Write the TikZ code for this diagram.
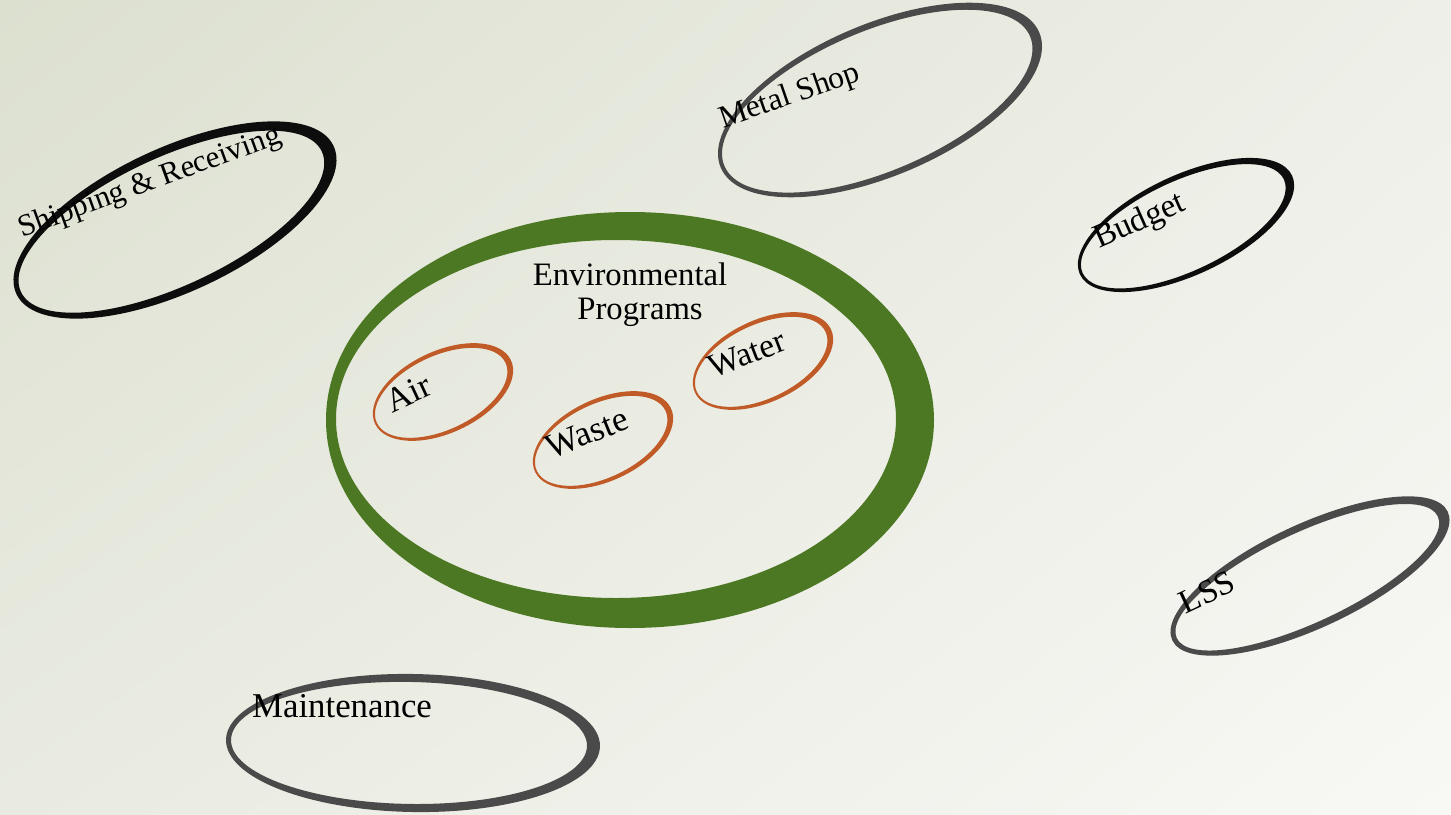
\documentclass[tikz,border=0pt]{standalone}
\usepackage{fontspec}
\setmainfont{Liberation Serif}
\usetikzlibrary{shadings}
\definecolor{bgdark}{HTML}{DCE0CF}
\definecolor{bgmid}{HTML}{E9EBE1}
\definecolor{bgmid2}{HTML}{EEEFE8}
\definecolor{bglight}{HTML}{F8F8F5}
\definecolor{envgreen}{HTML}{4D7823}
\definecolor{progorange}{HTML}{C05A27}
\definecolor{ringdark}{HTML}{4A4A4A}
\tikzset{
	ringblack/.style={fill=black!95,even odd rule},
	ringgray/.style={fill=ringdark,even odd rule},
	ringgreen/.style={fill=envgreen,even odd rule},
	ringorange/.style={fill=progorange,even odd rule},
	lbl/.style={inner sep=0pt,font=\fontsize{9}{10}\selectfont},
}

\begin{document}
\begin{tikzpicture}[x=0.01cm,y=-0.01cm]
	\useasboundingbox (0,0) rectangle (1451,815);
	\shade[upper left=bgdark,lower left=bgmid,upper right=bgmid2,lower right=bglight] (0,0) rectangle (1451,815);

	% outer departments
	\fill[ringblack,shift={(175,220)},rotate=25] (0,0) ellipse (175 and 72) (-4,0) ellipse (166 and 64);
	\fill[ringgray,shift={(880,100)},rotate=23] (0,0) ellipse (173 and 76) (-3,0) ellipse (166 and 70);
	\fill[ringblack,shift={(1186,225)},rotate=25] (0,0) ellipse (117 and 50) (-3,0) ellipse (111 and 45);
	\fill[ringgray,shift={(1310,576)},rotate=25] (0,0) ellipse (152 and 52) (-3,0) ellipse (144 and 45);
	\fill[ringgray,shift={(413,743)},rotate=-1] (0,0) ellipse (187 and 69) (-4,0) ellipse (178 and 61);

	% environmental programs
	\fill[ringgreen] (630,420) ellipse (304 and 208) (616,419) ellipse (280 and 179);
	\fill[ringorange,shift={(443,392)},rotate=25] (0,0) ellipse (75 and 41) (-2,0) ellipse (71 and 37);
	\fill[ringorange,shift={(603,440)},rotate=25] (0,0) ellipse (75 and 41) (-2,0) ellipse (71 and 37);
	\fill[ringorange,shift={(763,361)},rotate=25] (0,0) ellipse (75 and 41) (-2,0) ellipse (71 and 37);

	\node[lbl,rotate=20,font=\fontsize{8.8}{10}\selectfont] (ship) at (150,183) {Shipping \& Receiving};
	\node[lbl,rotate=19] (metal) at (790,97) {Metal Shop};
	\node[lbl,rotate=24,font=\fontsize{9.5}{10}\selectfont] (budget) at (1140,222) {Budget};
	\node[lbl,rotate=25,font=\fontsize{9.5}{10}\selectfont] (lss) at (1207,592) {LSS};
	\node[lbl,anchor=base,font=\fontsize{9.9}{11}\selectfont] (maint) at (342,717) {Maintenance};
	\node[lbl,align=center,font=\fontsize{9.3}{9.7}\selectfont] (env) at (630,295) {Environmental\\\hspace*{0.2cm}Programs};
	\node[lbl,rotate=25,font=\fontsize{9.8}{10}\selectfont] (air) at (408,393) {Air};
	\node[lbl,rotate=22,font=\fontsize{10}{10}\selectfont] (waste) at (587,433) {Waste};
	\node[lbl,rotate=21,font=\fontsize{9.6}{10}\selectfont] (water) at (747,354) {Water};
\end{tikzpicture}
\end{document}
